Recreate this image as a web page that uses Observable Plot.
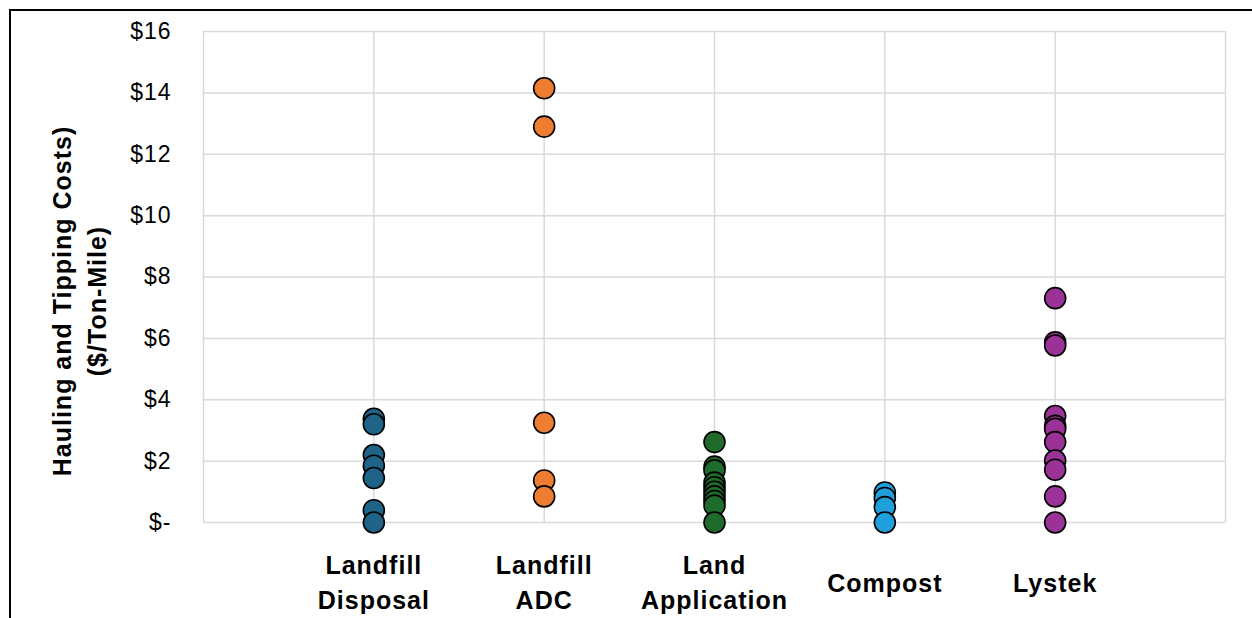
<!DOCTYPE html>
<html>
<head>
<meta charset="utf-8">
<script src="https://cdn.jsdelivr.net/npm/d3@7"></script>
<script src="https://cdn.jsdelivr.net/npm/@observablehq/plot@0.6"></script>
<style>
  body { margin: 0; background: #fff; }
  #chart { position: relative; width: 1252px; height: 618px; overflow: hidden; }
  #chart svg { position: absolute; left: 0; top: 0; }
  #frame { position: absolute; left: 9px; top: 9px; right: -10px; bottom: -10px;
           border-top: 2px solid #000; border-left: 2px solid #000; pointer-events: none; }
  #chart svg g[aria-label="y-axis tick label"] text { letter-spacing: 1px; }
  #chart svg g.cat-label text, #chart svg g.y-title text { letter-spacing: 1px; }
</style>
</head>
<body>
<div id="chart"><div id="frame"></div></div>
<script>
// Categories along the x axis (line breaks as shown under each column)
const categories = ["Landfill\nDisposal", "Landfill\nADC", "Land\nApplication", "Compost", "Lystek"];

// Hauling and tipping costs, $/ton-mile, per facility
const landfillDisposal = [3.38, 3.2, 2.2, 1.85, 1.45, 0.4, 0.0];
const landfillADC      = [14.15, 12.9, 3.25, 1.37, 0.85];
const landApplication  = [2.62, 1.82, 1.7, 1.3, 1.15, 1.0, 0.85, 0.7, 0.55, 0.0];
const compost          = [0.98, 0.8, 0.5, 0.0];
const lystek           = [7.31, 5.87, 5.77, 3.47, 3.15, 3.05, 2.62, 2.02, 1.72, 0.85, 0.0];

const seriesValues = [landfillDisposal, landfillADC, landApplication, compost, lystek];

// y-axis ticks
const yTicks = [0, 2, 4, 6, 8, 10, 12, 14, 16];
const yTickLabels = ["$-", "$2", "$4", "$6", "$8", "$10", "$12", "$14", "$16"];

const yTitle = "Hauling and Tipping Costs)\n($/Ton-Mile)";

// Series fills
const colors = ["#1f6488", "#ed7d31", "#1e6b2b", "#1fa0dc", "#9a3298"];

const points = seriesValues.flatMap((vals, i) =>
  vals.map(v => ({category: categories[i], pos: i + 1, value: v}))
);

const font = "'Liberation Sans', Arial, Helvetica, sans-serif";
const grid = "#d9d9d9";

const chart = Plot.plot({
  width: 1252,
  height: 618,
  marginLeft: 203,
  marginRight: 27,
  marginTop: 31,
  marginBottom: 96,
  style: {fontFamily: font, fontSize: "22px", color: "#000", background: "transparent"},
  x: {domain: [0, categories.length + 1], axis: null},
  y: {domain: [0, 16], axis: null},
  color: {domain: categories, range: colors},
  marks: [
    Plot.gridX(d3.range(0, categories.length + 2), {stroke: grid, strokeOpacity: 1, strokeWidth: 1.5}),
    Plot.gridY(yTicks, {stroke: grid, strokeOpacity: 1, strokeWidth: 1.5}),
    Plot.axisY(yTicks, {
      label: null,
      tickSize: 0,
      tickPadding: 32,
      tickFormat: d => yTickLabels[yTicks.indexOf(d)],
      fontSize: 23,
      fill: "#000"
    }),
    Plot.text(categories, {
      x: (d, i) => i + 1,
      text: d => d,
      frameAnchor: "bottom",
      dy: 58,
      lineAnchor: "middle",
      lineHeight: 1.4,
      fontSize: 25,
      fontWeight: "bold",
      fill: "#000",
      className: "cat-label"
    }),
    Plot.text([yTitle], {
      text: d => d,
      frameAnchor: "left",
      textAnchor: "middle",
      rotate: -90,
      dx: -126,
      dy: 24,
      lineAnchor: "middle",
      lineHeight: 1.4,
      fontSize: 25,
      fontWeight: "bold",
      fill: "#000",
      className: "y-title"
    }),
    Plot.dot(points, {
      x: "pos",
      y: "value",
      r: 10.5,
      fill: "category",
      stroke: "#000",
      strokeWidth: 1.6
    })
  ]
});

document.getElementById("chart").prepend(chart);
</script>
</body>
</html>
